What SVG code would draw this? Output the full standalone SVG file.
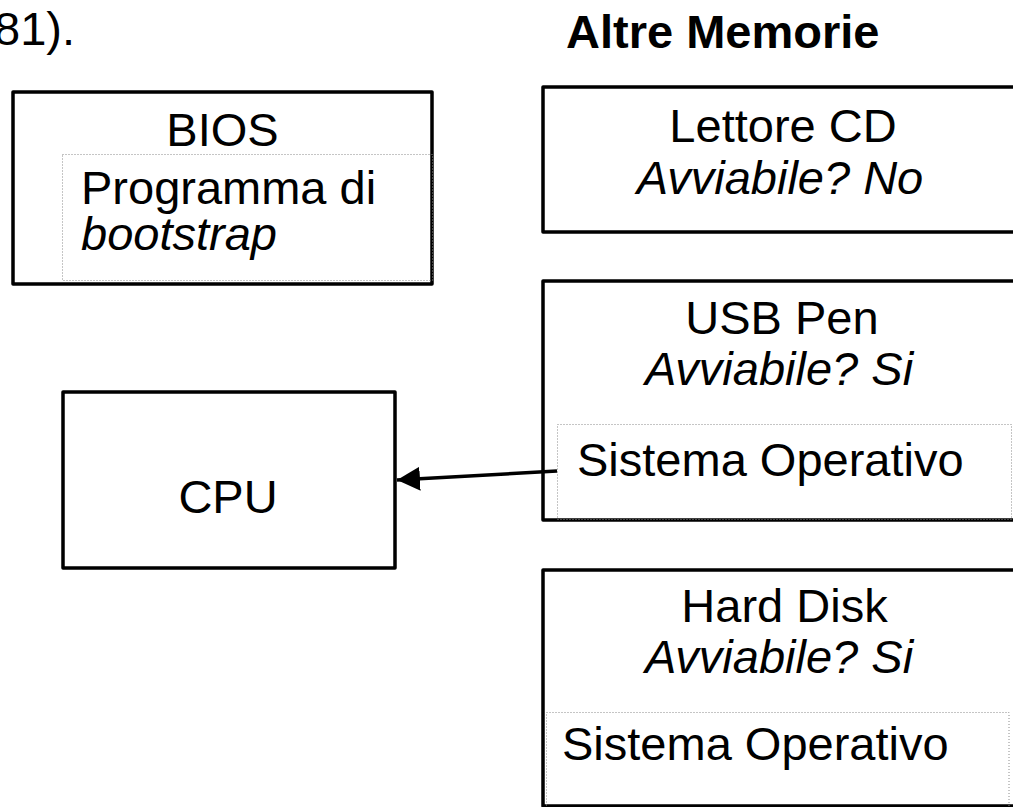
<svg xmlns="http://www.w3.org/2000/svg" width="1013" height="807" viewBox="0 0 1013 807">
  <style>
    text { font-family: "Liberation Sans", Arial, sans-serif; fill: #000; font-size: 47px; }
    .it { font-style: italic; }
    .mid { text-anchor: middle; }
    .box { fill: none; stroke: #000; stroke-width: 3.5; stroke-linejoin: round; }
    .dot { fill: none; stroke: #8a8a8a; stroke-width: 1; stroke-dasharray: 1 2; }
    .wire { fill: none; stroke: #000; stroke-width: 3.5; }
  </style>
  <defs>
    <marker id="head" markerUnits="userSpaceOnUse" markerWidth="26" markerHeight="26" refX="23" refY="12" orient="auto">
      <path d="M0,0 L23,12 L0,24 Z" fill="#000"/>
    </marker>
  </defs>

  <rect width="1013" height="807" fill="#fff"/>

  <!-- headings -->
  <text x="-6" y="45" font-size="46">81).</text>
  <text x="566" y="48" font-size="46" font-weight="bold">Altre Memorie</text>

  <!-- BIOS with bootstrap program -->
  <g id="bios">
    <rect class="box" x="13" y="92" width="419" height="192"/>
    <rect class="dot" x="62.5" y="154.5" width="370" height="126"/>
    <text class="mid" x="222.5" y="146">BIOS</text>
    <text x="81" y="204">Programma di</text>
    <text class="it" x="81" y="250">bootstrap</text>
  </g>

  <!-- CPU -->
  <g id="cpu">
    <rect class="box" x="63" y="392" width="332" height="176"/>
    <text class="mid" x="228" y="513" font-size="61">CPU</text>
  </g>

  <!-- CD drive -->
  <g id="cd">
    <rect class="box" x="543" y="87" width="490" height="145"/>
    <text class="mid" x="783" y="142">Lettore CD</text>
    <text class="it mid" x="780" y="194">Avviabile? No</text>
  </g>

  <!-- USB pen -->
  <g id="usb">
    <rect class="box" x="543" y="281" width="490" height="239"/>
    <rect class="dot" x="557.5" y="424.5" width="454" height="95"/>
    <text class="mid" x="782" y="334">USB Pen</text>
    <text class="it mid" x="779" y="385">Avviabile? Si</text>
    <text x="577" y="476">Sistema Operativo</text>
  </g>

  <!-- hard disk -->
  <g id="hdd">
    <rect class="box" x="543" y="570" width="490" height="236"/>
    <rect class="dot" x="546.5" y="712.5" width="462.5" height="100"/>
    <text class="mid" x="784.5" y="622">Hard Disk</text>
    <text class="it mid" x="779" y="673">Avviabile? Si</text>
    <text x="562" y="760">Sistema Operativo</text>
  </g>

  <!-- connectors -->
  <g id="connectors">
    <line class="wire" x1="557" y1="471" x2="397" y2="480" marker-end="url(#head)"/>
  </g>
</svg>
